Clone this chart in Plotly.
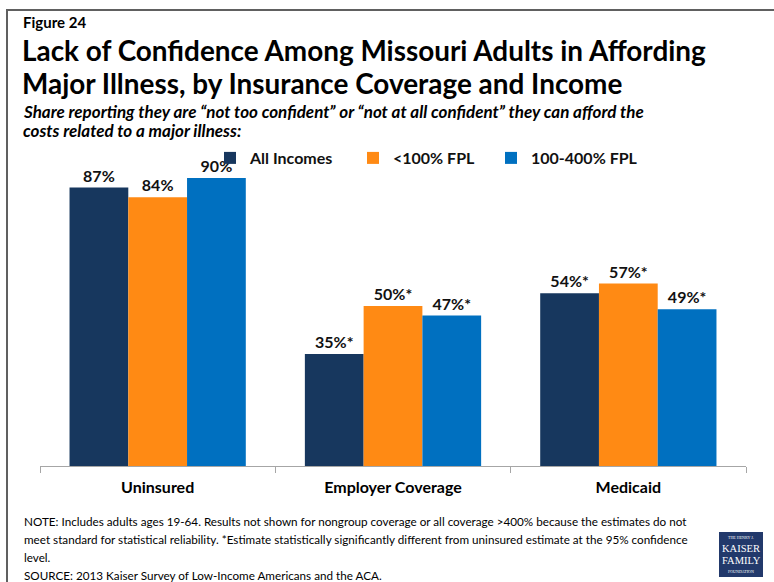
import plotly.graph_objects as go

# Survey results: share not confident they could afford a major illness
categories = ["Uninsured", "Employer Coverage", "Medicaid"]
series_names = ["All Incomes", "<100% FPL", "100-400% FPL"]
all_incomes = [87, 35, 54]
below_100 = [84, 50, 57]
fpl_100_400 = [90, 47, 49]
significant = [
    [False, True, True],
    [False, True, True],
    [False, True, True],
]
colors = ["#17375E", "#FF8A14", "#0070C0"]

W, H = 774, 582
PL, PR, PT, PB = 40, 746, 146, 466  # plot area in pixels


def px(x):
    return (x - PL) / (PR - PL)


def py(y):
    return (PB - y) / (PB - PT)


FONT = "Lato"
LEGEND_FONT = dict(family=FONT, size=16, color="#111111", weight="bold")
legend_ids = ["legend", "legend2", "legend3"]
legend_left = [210, 353, 491]  # left edge of each legend entry, px

fig = go.Figure()
for name, vals, sig, col, lid in zip(series_names, [all_incomes, below_100, fpl_100_400],
                                     significant, colors, legend_ids):
    fig.add_trace(go.Bar(
        x=categories, y=vals, name=name, marker_color=col, marker_line_width=0,
        legend=lid,
        text=[f"{v}%" + ("*" if s else "") for v, s in zip(vals, sig)],
        textposition="outside", constraintext="none", cliponaxis=False,
        textfont=dict(family=FONT, size=16, color="#111111", weight="bold"),
    ))

annotations = [
    dict(text="<b>Figure 24</b>", x=px(21), y=py(22), size=15),
    dict(text="<b>Lack of Confidence Among Missouri Adults in Affording</b>", x=px(20), y=py(50), size=27.9),
    dict(text="<b>Major Illness, by Insurance Coverage and Income</b>", x=px(20), y=py(83), size=27.9),
    dict(text="<b><i>Share reporting they are \u201cnot too confident\u201d or \u201cnot at all confident\u201d they can afford the</i></b>",
         x=px(21), y=py(111), size=17),
    dict(text="<b><i>costs related to a major illness:</i></b>", x=px(21), y=py(130), size=17),
    dict(text="NOTE: Includes adults ages 19-64. Results not shown for nongroup coverage or all coverage >400% because the estimates do not",
         x=px(22), y=py(521), size=11.7),
    dict(text="meet standard for statistical reliability. *Estimate statistically significantly different from uninsured estimate at the 95% confidence",
         x=px(22), y=py(539), size=11.7),
    dict(text="level.", x=px(22), y=py(557), size=11.7),
    dict(text="SOURCE: 2013 Kaiser Survey of Low-Income Americans and the ACA.", x=px(22), y=py(575), size=11.7),
]
ann = []
for a in annotations:
    ann.append(dict(text=a["text"], x=a["x"], y=a["y"], xref="paper", yref="paper",
                    xanchor="left", yanchor="middle", showarrow=False,
                    font=dict(family=FONT, size=a["size"], color="#000000")))

# Foundation logo block
logo_lines = [("THE HENRY J.", 4, 537), ("KAISER", 10.5, 548), ("FAMILY", 10.5, 560), ("FOUNDATION", 4, 571)]
for t, s, y in logo_lines:
    ann.append(dict(text=t, x=px(741), y=py(y), xref="paper", yref="paper", xanchor="center",
                    yanchor="middle", showarrow=False,
                    font=dict(family="Liberation Serif", size=s, color="#FFFFFF")))

shapes = [
    dict(type="rect", xref="paper", yref="paper", x0=px(7), x1=px(790), y0=py(10), y1=py(600),
         line=dict(color="#606060", width=2), fillcolor="rgba(0,0,0,0)", layer="below"),
    dict(type="rect", xref="paper", yref="paper", x0=px(719), x1=px(763), y0=py(532), y1=py(577),
         line=dict(width=0), fillcolor="#22396B"),
]

legends = {}
for lid, left in zip(legend_ids, legend_left):
    legends[lid] = dict(orientation="h", x=px(left), y=py(158), xanchor="left", yanchor="middle",
                        xref="paper", yref="paper", font=LEGEND_FONT,
                        bgcolor="rgba(0,0,0,0)", itemclick=False)

fig.update_layout(
    width=W, height=H,
    margin=dict(l=PL, r=W - PR, t=PT, b=H - PB, pad=0),
    paper_bgcolor="white", plot_bgcolor="white",
    barmode="group", bargap=0.251, bargroupgap=0,
    showlegend=True,
    xaxis=dict(showline=True, linecolor="#A6A6A6", linewidth=1, ticks="outside",
               tickson="boundaries", ticklen=6, tickcolor="#A6A6A6",
               tickfont=dict(family=FONT, size=16, color="#000000", weight="bold"),
               ticklabelstandoff=7, fixedrange=True),
    yaxis=dict(range=[0, 100], visible=False, fixedrange=True),
    annotations=ann, shapes=shapes,
    font=dict(family=FONT),
    **legends,
)

fig.write_html("out.html")
